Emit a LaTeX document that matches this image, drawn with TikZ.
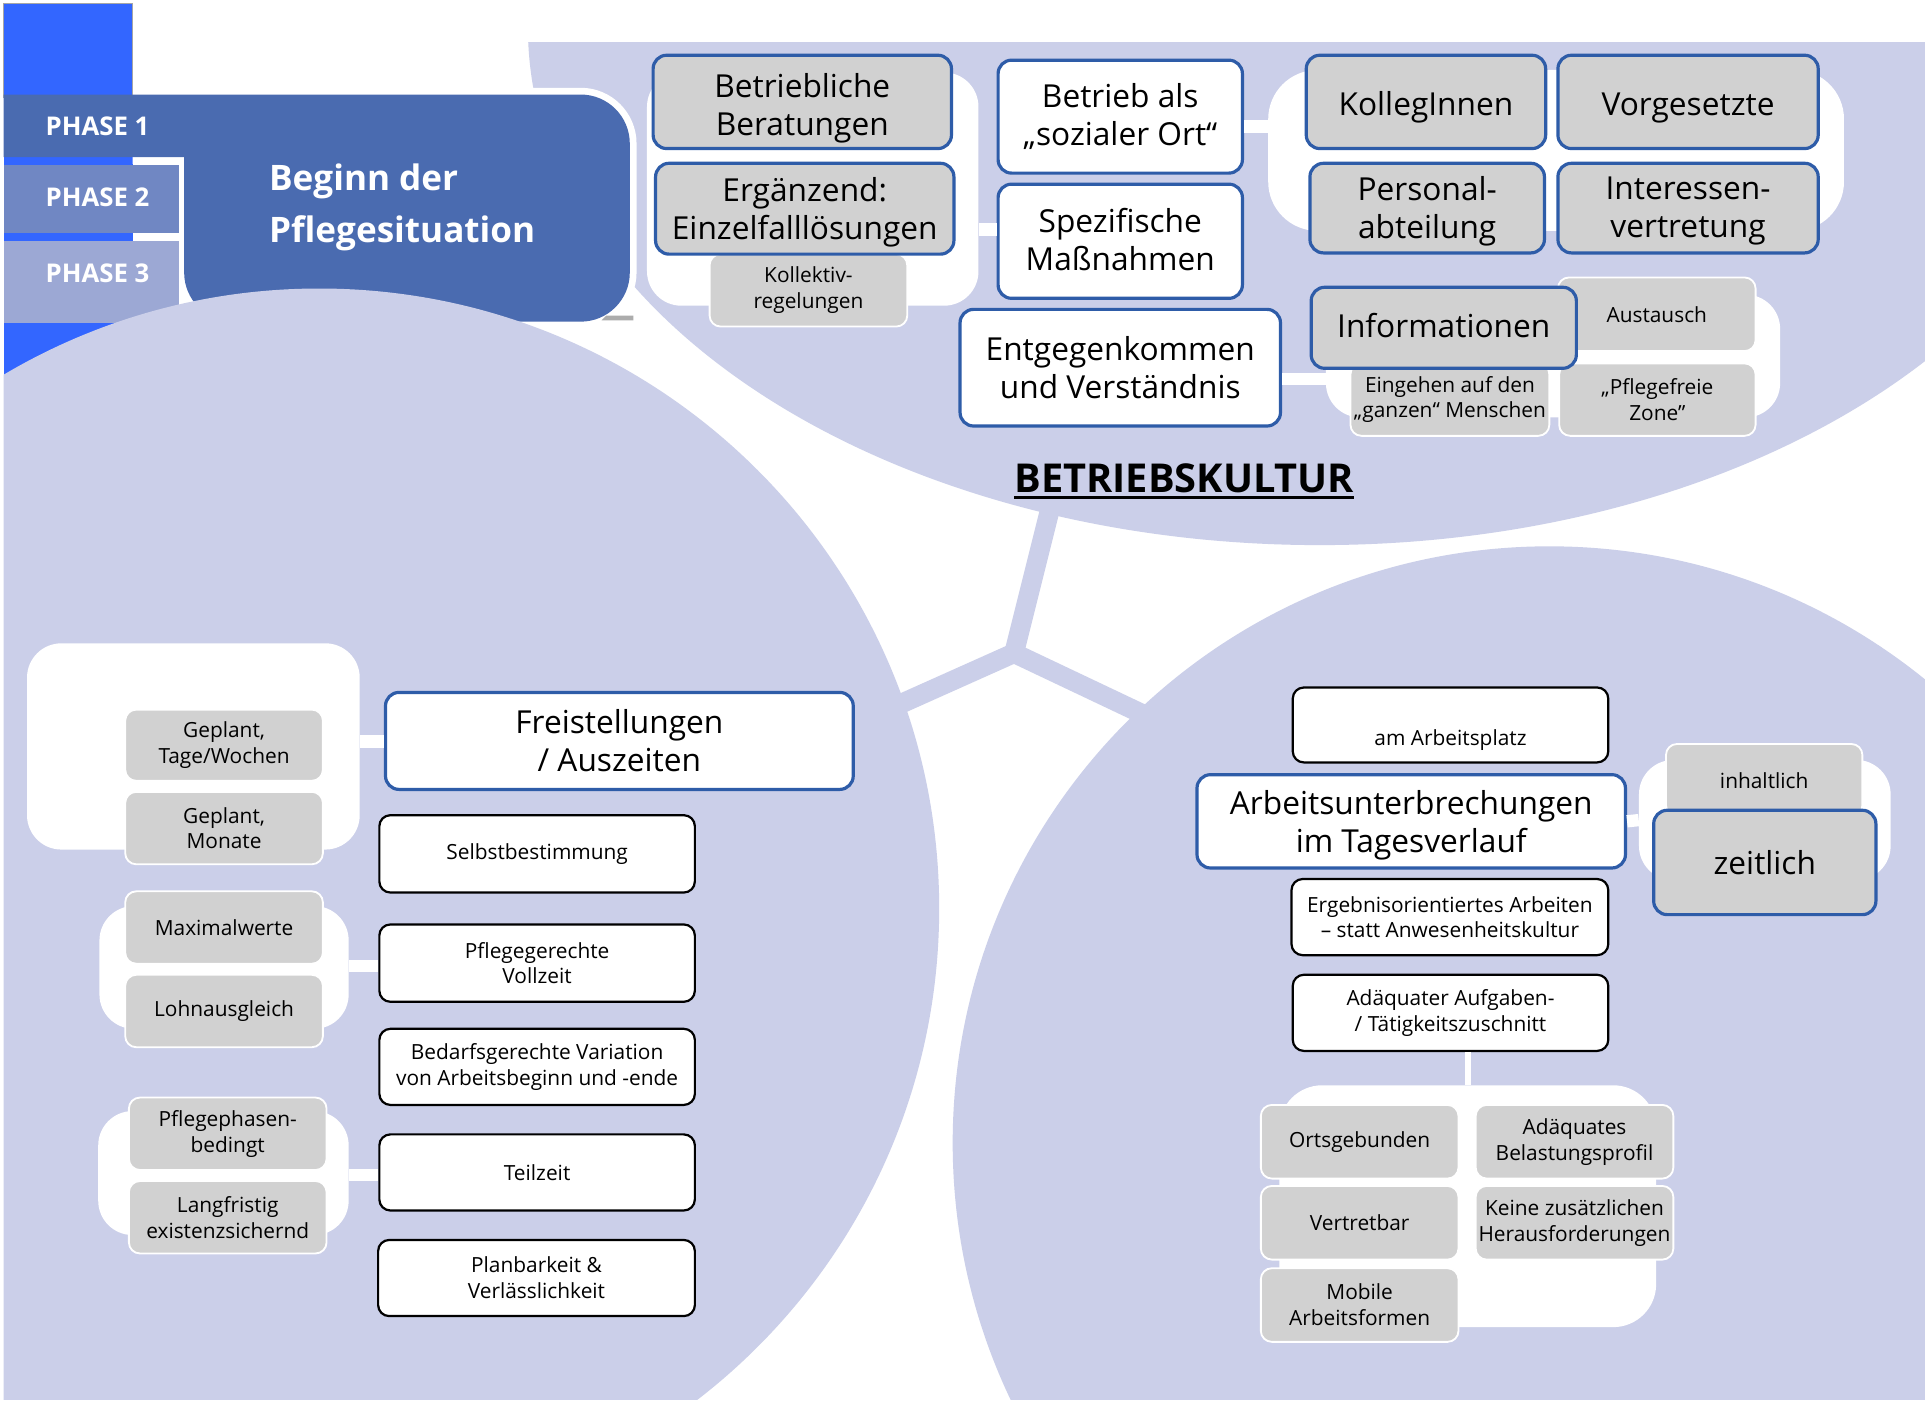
\documentclass[tikz,border=0pt]{standalone}
\usepackage{fontspec}
\setmainfont{Open Sans}
\definecolor{lav}{HTML}{CBCFE9}
\definecolor{boxgray}{HTML}{D1D1D1}
\definecolor{bblue}{HTML}{2E5CA8}
\definecolor{bodyblue}{HTML}{4A6BB0}
\definecolor{tabtwo}{HTML}{7087C3}
\definecolor{tabthree}{HTML}{9CA8D4}
\definecolor{bright}{HTML}{3366FF}
\newcommand\FBig{\fontsize{25.8}{31}\selectfont}
\newcommand\FSmall{\fontsize{17}{21}\selectfont}
\newcommand\FPhase{\bfseries\fontsize{21}{25}\selectfont}
\newcommand\FTitle{\bfseries\fontsize{28.6}{42.5}\selectfont}
\newcommand\FBK{\bfseries\fontsize{32.4}{38}\selectfont}
\newcommand\dnbox[2]{\raisebox{#1}[\height][\depth]{\begin{tabular}{@{}c@{}}#2\end{tabular}}}
\begin{document}
\begin{tikzpicture}[x=1pt,y=-1pt,
  sz/.style 2 args={minimum width=#1pt,minimum height=#2pt},
  nbox/.style={rounded corners=11pt,align=center,inner sep=0pt,text=black},
  bb/.style={nbox,draw=bblue,line width=2.6pt,font=\FBig},
  bbw/.style={bb,fill=white},
  bbg/.style={bb,fill=boxgray},
  sw/.style={nbox,rounded corners=9pt,draw=black,line width=1.8pt,fill=white,font=\FSmall},
  sg/.style={nbox,rounded corners=9pt,draw=white,line width=1.5pt,fill=boxgray,font=\FSmall},
  cont/.style={fill=white,rounded corners=28pt,inner sep=0pt},
  conn/.style={draw=white,line width=10pt},
  ybar/.style={draw=lav,line width=16pt},
  phase/.style={text=white,font=\FPhase,inner sep=0pt,anchor=base west}]
\useasboundingbox (0,0) rectangle (1568,1143);
\fill[white] (0,0) rectangle (1568,1143);
% top region
\begin{scope}
\clip (3,35) rectangle (1568,1140);
\fill[lav] (1075,22) ellipse [x radius=645pt, y radius=422pt];
\end{scope}
% phase header
\fill[bright] (3,3) rectangle (108,320);
\draw[gray!70,line width=1pt] (3,80) -- (3,3) -- (108,3) -- (108,80);
\draw[white,line width=11pt,rounded corners=40pt] (400,77) -- (513,77) -- (513,262) -- (150,262) -- (150,128) -- (108,128);
\fill[tabtwo] (3,134) rectangle (146,190);
\fill[tabthree] (3,196) rectangle (146,263);
\fill[bodyblue] (3,77) [rounded corners=40pt] -- (513,77) -- (513,262) -- (150,262) [sharp corners] -- (150,128) -- (3,128) -- cycle;
\fill[gray!65] (494,257) -- (516,257) -- (516,261) -- (490,261) -- cycle;
\node[phase] (p1) at (37,110) {PHASE 1};
\node[phase] (p2) at (37,168.5) {PHASE 2};
\node[phase] (p3) at (37,230) {PHASE 3};
\node[text=white,font=\FTitle,align=left,anchor=west,inner sep=0pt] (title) at (219,169) {Beginn der\\Pflegesituation};
% lower regions
\begin{scope}
\clip (3,35) rectangle (1568,1140);
\fill[lav] (260,740) circle [radius=505pt];
\fill[lav] (1262,931) circle [radius=486pt];
\end{scope}
\coordinate (yc) at (826,532);
\coordinate (yt) at (857,408);
\coordinate (yl) at (712,583);
\coordinate (yr) at (942,587);
\draw[ybar] (yc) -- (yt);
\draw[ybar] (yc) -- (yl);
\draw[ybar] (yc) -- (yr);

% ---------- top group ----------
\node[cont,sz={270}{190}] (c1) at (662,154) {};
\node[sg,sz={161}{59}] (koll) at (658.5,236.5) {Kollektiv-\\regelungen};
\node[bbg,sz={243}{76}] (betrb) at (653.5,83) {\dnbox{-6pt}{Betriebliche\\Beratungen}};
\node[bbg,sz={243}{74}] (ergz) at (655.5,170) {\dnbox{-3.5pt}{Ergänzend:\\Einzelfalllösungen}};
\node[bbw,sz={199}{92}] (soz) at (912.5,95) {Betrieb als\\„sozialer Ort“};
\node[bbw,sz={199}{93}] (spez) at (912.5,196.5) {\dnbox{-2pt}{Spezifische\\Maßnahmen}};
\node[bbw,sz={261}{95}] (entg) at (912.5,299.5) {Entgegenkommen\\und Verständnis};
\node[cont,rounded corners=40pt,sz={469}{131}] (c2) at (1267.5,122.5) {};
\node[bbg,sz={195}{76}] (kol) at (1161.5,83) {\dnbox{-5pt}{KollegInnen}};
\node[bbg,sz={212}{76}] (vorg) at (1375,83) {\dnbox{-4.5pt}{Vorgesetzte}};
\node[bbg,sz={191}{73}] (pers) at (1162.5,169.5) {\dnbox{-3pt}{Personal-\\abteilung}};
\node[bbg,sz={212}{73}] (inter) at (1375,169.5) {\dnbox{-2.5pt}{Interessen-\\vertretung}};
\node[cont,sz={370}{100}] (c3) at (1265,290) {};
\node[sg,sz={162}{59}] (eing) at (1181,325.5) {Eingehen auf den\\„ganzen“ Menschen};
\node[sg,sz={160}{59}] (pflz) at (1350,325.5) {„Pflegefreie\\Zone”};
\node[sg,sz={161}{60}] (aust) at (1349.5,256) {Austausch};
\node[bbg,sz={216}{66}] (info) at (1176,267) {\dnbox{-1.6pt}{Informationen}};
\draw[conn] ([yshift=-33pt]c1.east) -- ([yshift=9.5pt]spez.west);
\draw[conn] ([yshift=-8pt]soz.east) -- ([yshift=19.5pt]c2.west);
\draw[conn] ([yshift=-9pt]entg.east) -- ([yshift=-18.5pt]c3.west);
\node[anchor=base west,inner sep=0pt,font=\FBK] (bk) at (826,401.5) {BETRIEBSKULTUR};
\draw[line width=2.2pt] ([yshift=-3.5pt]bk.base west) -- ([yshift=-3.5pt]bk.base east);

% ---------- left group ----------
\node[cont,sz={271}{168}] (c4) at (157.5,608) {};
\node[sg,sz={161}{58}] (gtw) at (182.5,607) {Geplant,\\Tage/Wochen};
\node[sg,sz={161}{59}] (gm) at (182.5,674.5) {Geplant,\\Monate};
\node[bbw,sz={381}{79}] (frei) at (504.5,603.5) {Freistellungen\\/ Auszeiten};
\node[sw,sz={257}{63}] (selbst) at (437.5,695.5) {Selbstbestimmung};
\node[cont,sz={203}{100}] (c5) at (182.5,788) {};
\node[sg,sz={161}{59}] (maxw) at (182.5,755.5) {Maximalwerte};
\node[sg,sz={161}{59}] (lohn) at (182.5,823.5) {Lohnausgleich};
\node[sw,sz={257}{63}] (pfvz) at (437.5,784.5) {Pflegegerechte\\Vollzeit};
\node[sw,sz={257}{62}] (bedarf) at (437.5,869) {Bedarfsgerechte Variation\\von Arbeitsbeginn und -ende};
\node[cont,sz={204}{101}] (c6) at (182,955.5) {};
\node[sg,sz={161}{59}] (pfph) at (185.5,923.5) {Pflegephasen-\\bedingt};
\node[sg,sz={161}{59}] (langf) at (185.5,991.5) {Langfristig\\existenzsichernd};
\node[sw,sz={257}{62}] (teilz) at (437.5,955) {Teilzeit};
\node[sw,sz={258}{62}] (planb) at (437,1041) {Planbarkeit \&\\Verlässlichkeit};
\draw[conn] ([yshift=4pt]c4.east) -- ([yshift=-0.5pt]frei.west);
\draw[conn] ([yshift=1pt]c5.east) -- ([yshift=-2.5pt]pfvz.west);
\draw[conn] ([yshift=-1.5pt]c6.east) -- ([yshift=-2pt]teilz.west);

% ---------- right group ----------
\node[sw,sz={257}{61}] (amarb) at (1181.5,590.5) {\raisebox{-16.5pt}[0pt][0pt]{am Arbeitsplatz}};
\node[bbw,sz={349}{76}] (arbu) at (1149.5,669) {\dnbox{-3.5pt}{Arbeitsunterbrechungen\\im Tagesverlauf}};
\node[cont,sz={205}{98}] (c7) at (1437.5,668) {};
\node[sg,sz={160}{59}] (inh) at (1437,635.5) {inhaltlich};
\node[bbg,sz={181}{85}] (zeit) at (1437.5,702.5) {zeitlich};
\node[sw,sz={258}{62}] (ergeb) at (1181,747) {Ergebnisorientiertes Arbeiten\\– statt Anwesenheitskultur};
\node[sw,sz={257}{62}] (adaq) at (1181.5,825) {Adäquater Aufgaben-\\/ Tätigkeitszuschnitt};
\node[cont,rounded corners=35pt,sz={307}{197}] (c8) at (1195.5,982.5) {};
\node[sg,sz={161}{60}] (orts) at (1107.5,930) {Ortsgebunden};
\node[sg,sz={161}{60}] (adbel) at (1282.5,930) {Adäquates\\Belastungsprofil};
\node[sg,sz={161}{60}] (vertr) at (1107.5,996) {Vertretbar};
\node[sg,sz={161}{60}] (keine) at (1282.5,996) {Keine zusätzlichen\\Herausforderungen};
\node[sg,sz={161}{60}] (mobil) at (1107.5,1063) {Mobile\\Arbeitsformen};
\draw[conn] (arbu.east) -- (c7.west);
\draw[conn,line width=5pt] ([xshift=14pt]adaq.south) -- (c8.north);
\end{tikzpicture}
\end{document}
